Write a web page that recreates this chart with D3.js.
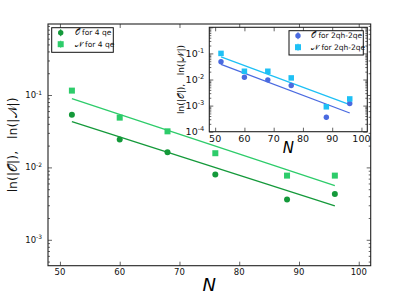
<!DOCTYPE html>
<html>
<head>
<meta charset="utf-8">
<script src="https://cdn.jsdelivr.net/npm/d3@7"></script>
<style>
  body { margin: 0; background: #fff; }
  text { font-family: "DejaVu Sans", sans-serif; }
</style>
</head>
<body>
<div id="chart"></div>
<script>
// System sizes N (shared by both panels)
const sizes = [52, 60, 68, 76, 88, 96];

// Main panel: 4 qe
const obs4qe = [0.0535, 0.0242, 0.0162, 0.0080, 0.0036, 0.0043];
const num4qe = [0.115, 0.0487, 0.0315, 0.0157, 0.0077, 0.0077];
const err4qe = [0.002, 0.001, 0.0006, 0.0003, 0.0002, 0.0002];
// fitted lines, values at N = 52 and N = 96
const fitObs4qe = [0.0428, 0.00294];
const fitNum4qe = [0.089, 0.0056];

// Inset: 2qh-2qe
const obsMix = [0.048, 0.0122, 0.0097, 0.0059, 0.00036, 0.0012];
const numMix = [0.100, 0.0207, 0.0207, 0.0115, 0.0009, 0.0018];
const errMix = [0.006, 0.0015, 0.0012, 0.0008, 0.00008, 0.00015];
const fitObsMix = [0.0382, 0.00052];
const fitNumMix = [0.0743, 0.00108];

const fitN = [52, 96];
const xTicks = [50, 60, 70, 80, 90, 100];

const W = 403, H = 302;
const svg = d3.select("#chart").append("svg")
    .attr("width", W).attr("height", H);

// Colours
const cDark = "#14993a", cLight = "#2dcc6a";
const cBlue = "#4a6ae0", cCyan = "#1ec0f5";

const sp = "\u00A0";

function drawPanel(g, o) {
  const x = d3.scaleLinear().domain([48, 102]).range([0, o.w]);
  const y = d3.scaleLog().domain(o.yDomain).range([o.h, 0]);

  g.append("rect").attr("width", o.w).attr("height", o.h).attr("fill", "#fff");

  // fit lines
  o.fits.forEach(f => {
    g.append("path")
      .datum(fitN.map((n, i) => [n, f.vals[i]]))
      .attr("fill", "none").attr("stroke", f.color).attr("stroke-width", 1.3)
      .attr("d", d3.line().x(d => x(d[0])).y(d => y(d[1])));
  });

  // points with error bars
  o.series.forEach(s => {
    const pts = sizes.map((n, i) => ({n, v: s.vals[i], e: s.err[i]}));
    g.selectAll(null).data(pts).join("line")
      .attr("x1", d => x(d.n)).attr("x2", d => x(d.n))
      .attr("y1", d => y(d.v + d.e)).attr("y2", d => y(Math.max(d.v - d.e, 1e-6)))
      .attr("stroke", s.color).attr("stroke-width", 1);
    if (s.shape === "circle") {
      g.selectAll(null).data(pts).join("circle")
        .attr("cx", d => x(d.n)).attr("cy", d => y(d.v)).attr("r", o.r)
        .attr("fill", s.color);
    } else {
      g.selectAll(null).data(pts).join("rect")
        .attr("x", d => x(d.n) - o.sq / 2).attr("y", d => y(d.v) - o.sq / 2)
        .attr("width", o.sq).attr("height", o.sq)
        .attr("fill", s.color);
    }
  });

  // ticks pointing inward on all four sides
  const yt = y.ticks();
  const isMajor = v => Math.abs(Math.log10(v) - Math.round(Math.log10(v))) < 1e-6;
  const major = yt.filter(isMajor), minor = yt.filter(v => !isMajor(v));
  const labelled = major.filter(v => v < 0.99);

  g.append("g").call(d3.axisBottom(x).tickValues(xTicks).tickSize(-4).tickFormat(""))
    .attr("transform", `translate(0,${o.h})`);
  g.append("g").call(d3.axisTop(x).tickValues(xTicks).tickSize(-4).tickFormat(""));
  [[d3.axisLeft, 0], [d3.axisRight, o.w]].forEach(([ax, tx]) => {
    g.append("g").attr("transform", `translate(${tx},0)`)
      .call(ax(y).tickValues(major).tickSize(-4).tickFormat(""));
    g.append("g").attr("transform", `translate(${tx},0)`)
      .call(ax(y).tickValues(minor).tickSize(-2).tickFormat(""));
  });
  g.selectAll(".domain").remove();
  g.selectAll(".tick line").attr("stroke", "#222").attr("stroke-width", 0.7);

  g.append("rect").attr("width", o.w).attr("height", o.h)
    .attr("fill", "none").attr("stroke", "#222").attr("stroke-width", 1.1);

  // tick labels
  g.selectAll(null).data(xTicks).join("text")
    .attr("x", d => x(d)).attr("y", o.h + o.xLabOff)
    .attr("text-anchor", "middle").attr("font-size", o.fs).attr("fill", "#111")
    .text(d => d);
  const yl = g.selectAll(null).data(labelled).join("text")
    .attr("x", -o.yLabOff).attr("y", d => y(d) + o.fs * 0.35)
    .attr("text-anchor", "end").attr("font-size", o.fs).attr("fill", "#111");
  yl.append("tspan").text("10");
  yl.append("tspan").attr("dy", -o.fs * 0.4).attr("font-size", o.fs * 0.7)
    .text(d => "-" + Math.round(-Math.log10(d)));

  // axis labels
  g.append("text")
    .attr("x", o.w / 2).attr("y", o.h + o.nOff)
    .attr("text-anchor", "middle").attr("font-size", o.nSize)
    .attr("font-family", "'DejaVu Serif', serif").attr("font-style", "italic")
    .text("N");
  g.append("text")
    .attr("transform", `translate(${o.yTitleX},${o.h / 2}) rotate(-90)`)
    .attr("text-anchor", "middle").attr("font-size", o.yTitleSize).attr("fill", "#111")
    .text("ln(|\u{1D4AA}|)," + sp + sp + sp + "ln(|\u{1D4A9}|)");

  // legend
  const lg = g.append("g").attr("transform", `translate(${o.leg.x},${o.leg.y})`);
  lg.append("rect").attr("width", o.leg.w).attr("height", o.leg.h)
    .attr("fill", "#fff").attr("stroke", "#111").attr("stroke-width", 1);
  o.series.forEach((s, i) => {
    const cy = 5 + i * 11.5, cx = 9;
    lg.append("line").attr("x1", cx).attr("x2", cx).attr("y1", cy - 3.5).attr("y2", cy + 3.5)
      .attr("stroke", s.color);
    if (s.shape === "circle") {
      lg.append("circle").attr("cx", cx).attr("cy", cy).attr("r", 2.7).attr("fill", s.color);
    } else {
      lg.append("rect").attr("x", cx - 3).attr("y", cy - 3).attr("width", 6).attr("height", 6)
        .attr("fill", s.color);
    }
    lg.append("text").attr("x", o.leg.tx).attr("y", cy + 2.8)
      .attr("font-size", 7.5).attr("fill", "#111")
      .text(s.label);
  });

  return g;
}

// Main panel
drawPanel(svg.append("g").attr("transform", "translate(48,24)"), {
  w: 322.7, h: 241.7,
  yDomain: [Math.pow(10, -3.358), Math.pow(10, -0.019)],
  r: 3, sq: 6, fs: 8.5,
  xLabOff: 9.5, yLabOff: 6,
  nOff: 25, nSize: 18,
  yTitleX: -31, yTitleSize: 12.5,
  series: [
    {vals: obs4qe, err: err4qe, color: cDark, shape: "circle", label: "\u{1D4AA} for 4 qe"},
    {vals: num4qe, err: err4qe, color: cLight, shape: "square", label: "\u{1D4A9} for 4 qe"}
  ],
  fits: [{vals: fitObs4qe, color: cDark}, {vals: fitNum4qe, color: cLight}],
  leg: {x: 3.7, y: 3.7, w: 61.6, h: 24.6, tx: 23}
});

// Inset panel
drawPanel(svg.append("g").attr("transform", "translate(209.3,27.3)"), {
  w: 158, h: 104.4,
  yDomain: [1e-4, 1],
  r: 2.7, sq: 5.5, fs: 9.5,
  xLabOff: 10.5, yLabOff: 5,
  nOff: 21, nSize: 15,
  yTitleX: -25, yTitleSize: 9,
  series: [
    {vals: obsMix, err: errMix, color: cBlue, shape: "circle", label: "\u{1D4AA} for 2qh-2qe"},
    {vals: numMix, err: errMix, color: cCyan, shape: "square", label: "\u{1D4A9} for 2qh-2qe"}
  ],
  fits: [{vals: fitObsMix, color: cBlue}, {vals: fitNumMix, color: cCyan}],
  leg: {x: 79.7, y: 3.4, w: 74.3, h: 24.3, tx: 22}
});
</script>
</body>
</html>
